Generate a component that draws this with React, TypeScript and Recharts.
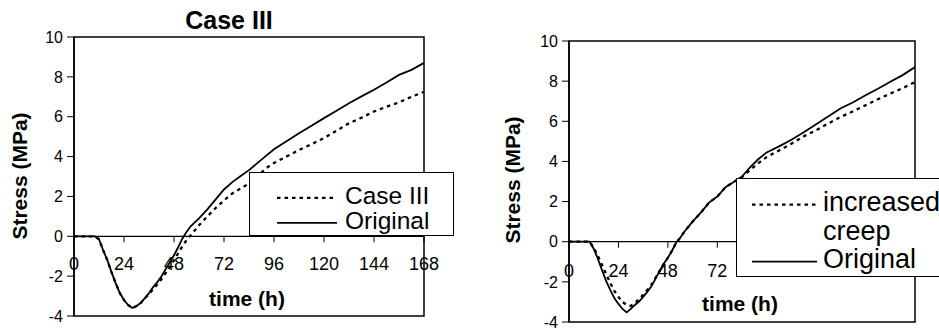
import React from 'react';
import { LineChart, Line, XAxis, YAxis, ReferenceLine, ReferenceArea, Legend } from 'recharts';

const FONT = '"Liberation Sans", Arial, Helvetica, sans-serif';

// Shared time base (hours)
const hours = [
  0, 4, 8, 10,
  12, 14, 16, 18, 20, 22, 24, 26, 28, 30, 32, 34, 36, 38, 40, 42, 44, 46, 48, 50, 52, 54, 56,
  60, 64, 68, 72, 76, 80, 84, 88, 92, 96,
  102, 108, 114, 120, 126, 132, 138, 144, 150, 156, 162, 168,
];

const xTicks = [0, 24, 48, 72, 96, 120, 144, 168];
const yTicks = [-4, -2, 0, 2, 4, 6, 8, 10];
// Tick labels left uncovered by each panel's legend box
const leftXTickLabels = [0, 24, 48, 72, 96, 120, 144, 168];
const rightXTickLabels = [0, 24, 48, 72];

// Left panel: Case III vs Original (MPa)
const leftOriginal = [
  0, 0, 0, 0,
  -0.15, -0.7, -1.2, -1.8, -2.35, -2.85, -3.2, -3.45, -3.6, -3.5, -3.35, -3.1, -2.85, -2.55, -2.3, -2.0, -1.65, -1.3, -0.95, -0.55, -0.12, 0.22, 0.5,
  0.9, 1.35, 1.85, 2.35, 2.72, 3.02, 3.32, 3.67, 4.02, 4.37,
  4.77, 5.17, 5.55, 5.93, 6.3, 6.68, 7.02, 7.35, 7.72, 8.1, 8.35, 8.7,
];
const leftCaseIII = [
  0, 0, 0, 0,
  -0.15, -0.7, -1.2, -1.8, -2.35, -2.85, -3.2, -3.45, -3.6, -3.5, -3.35, -3.12, -2.9, -2.65, -2.42, -2.15, -1.85, -1.55, -1.2, -0.85, -0.5, -0.2, 0.05,
  0.55, 1.0, 1.42, 1.8, 2.15, 2.4, 2.65, 3.0, 3.4, 3.68,
  4.0, 4.33, 4.62, 4.93, 5.3, 5.67, 5.95, 6.26, 6.5, 6.72, 7.0, 7.25,
];

// Right panel: increased creep vs Original (MPa)
const rightOriginal = [
  0, 0, 0, 0,
  -0.35, -0.85, -1.4, -1.95, -2.4, -2.8, -3.1, -3.35, -3.52, -3.35, -3.15, -2.98, -2.75, -2.5, -2.22, -1.85, -1.45, -1.1, -0.8, -0.45, -0.05, 0.2, 0.5,
  1.0, 1.45, 1.95, 2.25, 2.72, 2.98, 3.25, 3.72, 4.12, 4.45,
  4.75, 5.08, 5.45, 5.85, 6.25, 6.65, 6.95, 7.3, 7.62, 7.97, 8.3, 8.7,
];
const rightIncreasedCreep = [
  0, 0, 0, 0,
  -0.3, -0.7, -1.15, -1.6, -2.05, -2.45, -2.75, -3.0, -3.15, -3.2, -3.05, -2.85, -2.65, -2.4, -2.15, -1.8, -1.45, -1.1, -0.8, -0.45, -0.05, 0.2, 0.5,
  1.0, 1.45, 1.95, 2.25, 2.72, 2.98, 3.22, 3.58, 3.92, 4.22,
  4.55, 4.88, 5.25, 5.55, 5.9, 6.22, 6.5, 6.8, 7.1, 7.38, 7.65, 7.95,
];

type Series = { key: string; name: string; values: number[]; dashed: boolean };

type LegendLayout = {
  left: number; top: number; width: number; height: number;
  fontSize: number; rowH: number; padTop: number;
  lineX1: number; lineX2: number; textX: number; textWidth: number;
};

type PanelProps = {
  x: number;
  width: number;
  height: number;
  margin: { top: number; right: number; bottom: number; left: number };
  yAxisWidth: number;
  series: Series[];
  legend: LegendLayout;
  tickLabels: number[];
  tickLabelOffset: number;
};

const SOLID_W = 1.8;
const DOT_W = 2.3;
const DOT_DASH = '3.5 4';

function LegendBox({ series, lay }: { series: Series[]; lay: LegendLayout }) {
  const fs = lay.fontSize;
  const lineY = (lay.rowH - 1.117 * fs) / 2 + 0.905 * fs - 0.26 * fs;
  return (
    <div
      style={{
        width: '100%', height: '100%', boxSizing: 'border-box',
        border: '1.5px solid #000', background: '#fff', position: 'relative',
        fontFamily: FONT, fontSize: fs, color: '#000',
      }}
    >
      <div style={{ position: 'absolute', left: 0, top: lay.padTop, width: lay.width + 40 }}>
        {series.map((s) => (
          <div key={s.key} style={{ position: 'relative', minHeight: lay.rowH }}>
            <svg
              width={lay.lineX2 - lay.lineX1}
              height={lay.rowH}
              style={{ position: 'absolute', left: lay.lineX1, top: 0 }}
            >
              <line
                x1={0} x2={lay.lineX2 - lay.lineX1} y1={lineY} y2={lineY}
                stroke="#000"
                strokeWidth={s.dashed ? DOT_W : SOLID_W}
                strokeDasharray={s.dashed ? DOT_DASH : undefined}
              />
            </svg>
            <span
              style={{
                display: 'block', marginLeft: lay.textX, width: lay.textWidth,
                lineHeight: `${lay.rowH}px`, whiteSpace: 'normal',
              }}
            >
              {s.name}
            </span>
          </div>
        ))}
      </div>
    </div>
  );
}

function Panel({ x, width, height, margin, yAxisWidth, series, legend, tickLabels, tickLabelOffset }: PanelProps) {
  const rows = hours.map((t, i) => {
    const r: Record<string, number> = { t };
    series.forEach((s) => { r[s.key] = s.values[i]; });
    return r;
  });
  const ordered = [...series.filter((s) => s.dashed), ...series.filter((s) => !s.dashed)];
  return (
    <div style={{ position: 'absolute', left: x, top: 0 }}>
      <LineChart width={width} height={height} data={rows} margin={margin}>
        <XAxis type="number" dataKey="t" domain={[0, 168]} hide allowDataOverflow />
        <YAxis
          type="number"
          domain={[-4, 10]}
          ticks={yTicks}
          interval={0}
          width={yAxisWidth}
          tickSize={7}
          tickMargin={4}
          allowDataOverflow
          axisLine={{ stroke: '#000', strokeWidth: 1.5 }}
          tickLine={{ stroke: '#000', strokeWidth: 1 }}
          tick={{ fontSize: 16, fill: '#000', fontFamily: FONT }}
        />
        <ReferenceArea x1={0} x2={168} y1={-4} y2={10} fill="none" stroke="#000" strokeWidth={1.5} />
        <ReferenceLine y={0} stroke="#000" strokeWidth={1.2} />
        {xTicks.map((t) => (
          <ReferenceLine
            key={t}
            segment={[{ x: t, y: 0 }, { x: t, y: -0.3 }]}
            stroke="#000"
            strokeWidth={1}
            label={
              tickLabels.includes(t)
                ? {
                    value: String(t), position: 'bottom', offset: tickLabelOffset,
                    fontSize: 18, fill: '#000', fontFamily: FONT,
                  }
                : undefined
            }
          />
        ))}
        {ordered.map((s) => (
          <Line
            key={s.key}
            type="linear"
            dataKey={s.key}
            name={s.name}
            stroke="#000"
            strokeWidth={s.dashed ? DOT_W : SOLID_W}
            strokeDasharray={s.dashed ? DOT_DASH : undefined}
            dot={false}
            activeDot={false}
            isAnimationActive={false}
          />
        ))}
        <Legend
          layout="horizontal"
          verticalAlign="middle"
          align="center"
          wrapperStyle={{ left: legend.left, top: legend.top, width: legend.width, height: legend.height }}
          content={() => <LegendBox series={ordered} lay={legend} />}
        />
      </LineChart>
    </div>
  );
}

function Caption({ cx, cy, size, rotate, children }: { cx: number; cy: number; size: number; rotate?: boolean; children: React.ReactNode }) {
  return (
    <div
      style={{
        position: 'absolute', left: cx, top: cy, fontFamily: FONT, fontSize: size,
        fontWeight: 'bold', lineHeight: 1, whiteSpace: 'nowrap', color: '#000',
        transform: `translate(-50%, -50%)${rotate ? ' rotate(-90deg)' : ''}`,
      }}
    >
      {children}
    </div>
  );
}

export default function App() {
  const leftSeries: Series[] = [
    { key: 'caseIII', name: 'Case III', values: leftCaseIII, dashed: true },
    { key: 'original', name: 'Original', values: leftOriginal, dashed: false },
  ];
  const rightSeries: Series[] = [
    { key: 'creep', name: 'increased creep', values: rightIncreasedCreep, dashed: true },
    { key: 'original', name: 'Original', values: rightOriginal, dashed: false },
  ];

  return (
    <div
      style={{
        position: 'absolute', left: 0, top: 0, width: 939, height: 334,
        overflow: 'hidden', background: '#fff',
      }}
    >
      <Panel
        x={0}
        width={470}
        height={334}
        margin={{ top: 37, right: 46, bottom: 18, left: 0 }}
        yAxisWidth={74}
        series={leftSeries}
        tickLabels={leftXTickLabels}
        tickLabelOffset={15}
        legend={{
          left: 249, top: 172, width: 205, height: 64,
          fontSize: 24.5, rowH: 25.5, padTop: 9.5, lineX1: 27, lineX2: 87, textX: 95, textWidth: 110,
        }}
      />
      <Panel
        x={470}
        width={469}
        height={334}
        margin={{ top: 41, right: 24, bottom: 12, left: 0 }}
        yAxisWidth={99}
        series={rightSeries}
        tickLabels={rightXTickLabels}
        tickLabelOffset={16}
        legend={{
          left: 266, top: 178, width: 230, height: 99,
          fontSize: 27, rowH: 28.5, padTop: 9, lineX1: 15, lineX2: 80, textX: 86, textWidth: 125,
        }}
      />
      <Caption cx={229} cy={20} size={25}>Case III</Caption>
      <Caption cx={19} cy={176} size={21} rotate>Stress (MPa)</Caption>
      <Caption cx={247} cy={298} size={21}>time (h)</Caption>
      <Caption cx={512} cy={180} size={21} rotate>Stress (MPa)</Caption>
      <Caption cx={740} cy={303} size={21}>time (h)</Caption>
    </div>
  );
}
